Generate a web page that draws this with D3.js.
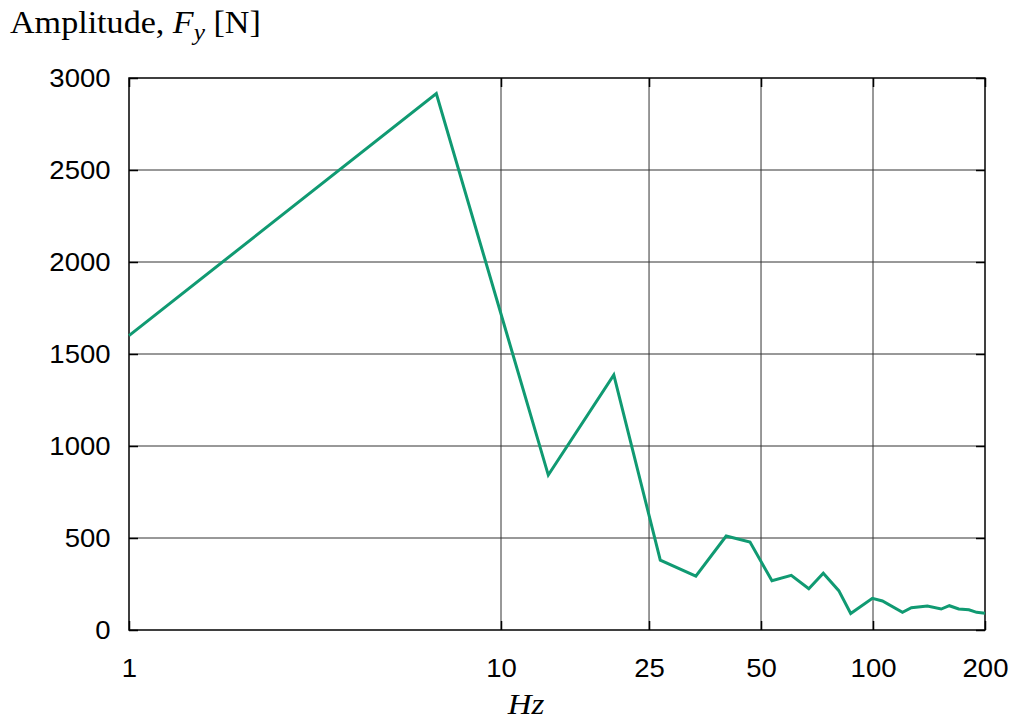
<!DOCTYPE html>
<html>
<head>
<meta charset="utf-8">
<script src="https://cdn.jsdelivr.net/npm/d3@7"></script>
<style>
  body { margin: 0; background: #fff; }
  svg { display: block; }
  .tick-label { font-family: "Liberation Sans", Arial, sans-serif; font-size: 25px; fill: #000; }
  .title { font-family: "Liberation Serif", "Times New Roman", serif; fill: #000; }
</style>
</head>
<body>
<svg id="chart" width="1016" height="720"></svg>
<script>
// spectrum
const freqs = [1, 6.7, 13.4, 20.1, 26.8, 33.4, 40.3, 46.7, 53.5, 60.3, 67.2, 73.5, 80.9, 87.1,
  99.6, 106, 120, 126.8, 140, 152.5, 160.4, 170, 181, 190, 200];
const amps = [1600, 2915, 842, 1386, 380, 293, 511, 478, 268, 297, 224, 308, 214, 90,
  172, 158, 96, 121, 130, 114, 132, 114, 110, 96, 91];
const xTicks = [1, 10, 25, 50, 100, 200];
const yTicks = [0, 500, 1000, 1500, 2000, 2500, 3000];

const W = 1016, H = 720;
const m = { left: 129, right: 31, top: 78, bottom: 90 };
const iw = W - m.left - m.right, ih = H - m.top - m.bottom;
const SX = 1.1; // text in the picture is a bit wide

const svg = d3.select('#chart');
svg.append('rect').attr('width', W).attr('height', H).attr('fill', '#fff');
const g = svg.append('g').attr('transform', `translate(${m.left},${m.top})`);

const x = d3.scaleLog().domain([1, 200]).range([0, iw]);
const y = d3.scaleLinear().domain([0, 3000]).range([ih, 0]);

// grid
g.append('g').selectAll('line').data(xTicks.slice(1, -1)).join('line')
  .attr('x1', d => x(d)).attr('x2', d => x(d)).attr('y1', 0).attr('y2', ih)
  .attr('stroke', '#333').attr('stroke-width', 1);
g.append('g').selectAll('line').data(yTicks.slice(1, -1)).join('line')
  .attr('x1', 0).attr('x2', iw).attr('y1', d => y(d)).attr('y2', d => y(d))
  .attr('stroke', '#333').attr('stroke-width', 1);

// axes with inward ticks
const yAxis = g.append('g').call(d3.axisLeft(y).tickValues(yTicks).tickSize(-9).tickFormat(d3.format('d')));
const xAxis = g.append('g').attr('transform', `translate(0,${ih})`)
  .call(d3.axisBottom(x).tickValues(xTicks).tickSize(-9).tickFormat(d3.format('d')));
g.append('g').attr('transform', `translate(${iw},0)`)
  .call(d3.axisRight(y).tickValues(yTicks).tickSize(-9).tickFormat(''));
g.append('g').call(d3.axisTop(x).tickValues(xTicks).tickSize(-9).tickFormat(''));

g.selectAll('.domain').remove();
g.selectAll('.tick line').attr('stroke', '#000').attr('stroke-width', 1.5);

yAxis.selectAll('text').attr('class', 'tick-label')
  .attr('x', -18.5 / SX).attr('dy', '0.34em')
  .attr('transform', `scale(${SX},1)`);
xAxis.selectAll('text').attr('class', 'tick-label')
  .attr('y', 47).attr('dy', 0)
  .attr('transform', `scale(${SX},1)`);

// plot frame
g.append('rect').attr('width', iw).attr('height', ih)
  .attr('fill', 'none').attr('stroke', '#000').attr('stroke-width', 1.5);

// series
const pts = freqs.map((f, i) => [f, amps[i]]);
g.append('path').datum(pts)
  .attr('fill', 'none').attr('stroke', '#109a72').attr('stroke-width', 3)
  .attr('stroke-linejoin', 'miter')
  .attr('d', d3.line().x(d => x(d[0])).y(d => y(d[1])));

// titles
const yt = svg.append('text').attr('class', 'title')
  .attr('transform', `translate(10,33) scale(${SX},1)`)
  .attr('font-size', 31);
yt.append('tspan').text('Amplitude, ');
yt.append('tspan').attr('font-style', 'italic').text('F');
yt.append('tspan').attr('font-style', 'italic').attr('font-size', 23).attr('dy', 7).text('y');
yt.append('tspan').attr('dy', -7).text(' [N]');

svg.append('text').attr('class', 'title')
  .attr('transform', `translate(526,714) scale(${SX},1)`)
  .attr('text-anchor', 'middle').attr('font-size', 30).attr('font-style', 'italic')
  .text('Hz');
</script>
</body>
</html>
